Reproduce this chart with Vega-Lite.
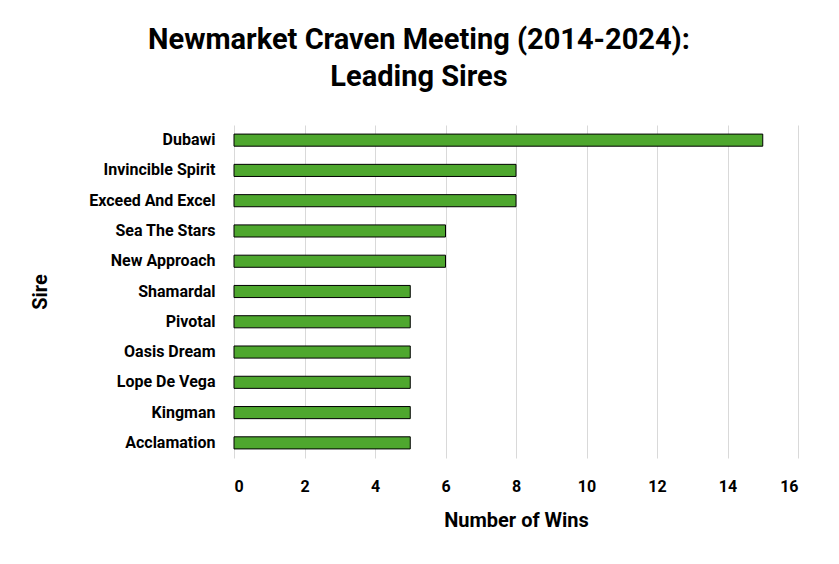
{
  "$schema": "https://vega.github.io/schema/vega-lite/v6.json",
  "autosize": "none",
  "width": 564,
  "height": 333,
  "padding": {"left": 234, "top": 125, "right": 41, "bottom": 106},
  "background": "white",
  "title": {
    "text": ["Newmarket Craven Meeting (2014-2024):", "Leading Sires"],
    "font": "Roboto",
    "fontSize": 29,
    "fontWeight": "bold",
    "color": "black",
    "anchor": "middle",
    "dx": -97,
    "offset": 33,
    "lineHeight": 37
  },
  "data": {
    "values": [
      {"sire": "Dubawi", "wins": 15},
      {"sire": "Invincible Spirit", "wins": 8},
      {"sire": "Exceed And Excel", "wins": 8},
      {"sire": "Sea The Stars", "wins": 6},
      {"sire": "New Approach", "wins": 6},
      {"sire": "Shamardal", "wins": 5},
      {"sire": "Pivotal", "wins": 5},
      {"sire": "Oasis Dream", "wins": 5},
      {"sire": "Lope De Vega", "wins": 5},
      {"sire": "Kingman", "wins": 5},
      {"sire": "Acclamation", "wins": 5}
    ]
  },
  "mark": {"type": "bar", "color": "#4EA72E", "stroke": "black", "strokeWidth": 1},
  "encoding": {
    "y": {
      "field": "sire",
      "type": "nominal",
      "sort": null,
      "title": "Sire",
      "scale": {"paddingInner": 0.6, "paddingOuter": 0.3},
      "axis": {
        "domain": false,
        "ticks": false,
        "labelFont": "Roboto",
        "labelFontSize": 16,
        "labelFontWeight": "bold",
        "labelColor": "black",
        "labelPadding": 19,
        "titleFont": "Roboto",
        "titleFontSize": 20,
        "titleFontWeight": "bold",
        "titleColor": "black",
        "titlePadding": 38
      }
    },
    "x": {
      "field": "wins",
      "type": "quantitative",
      "title": "Number of Wins",
      "scale": {"domain": [0, 16]},
      "axis": {
        "values": [0, 2, 4, 6, 8, 10, 12, 14, 16],
        "domain": false,
        "ticks": false,
        "grid": true,
        "gridColor": "#D9D9D9",
        "labelFont": "Roboto",
        "labelFontSize": 16,
        "labelFontWeight": "bold",
        "labelColor": "black",
        "labelPadding": 20,
        "titleFont": "Roboto",
        "titleFontSize": 20,
        "titleFontWeight": "bold",
        "titleColor": "black",
        "titlePadding": 16
      }
    }
  },
  "config": {"view": {"stroke": null}}
}
